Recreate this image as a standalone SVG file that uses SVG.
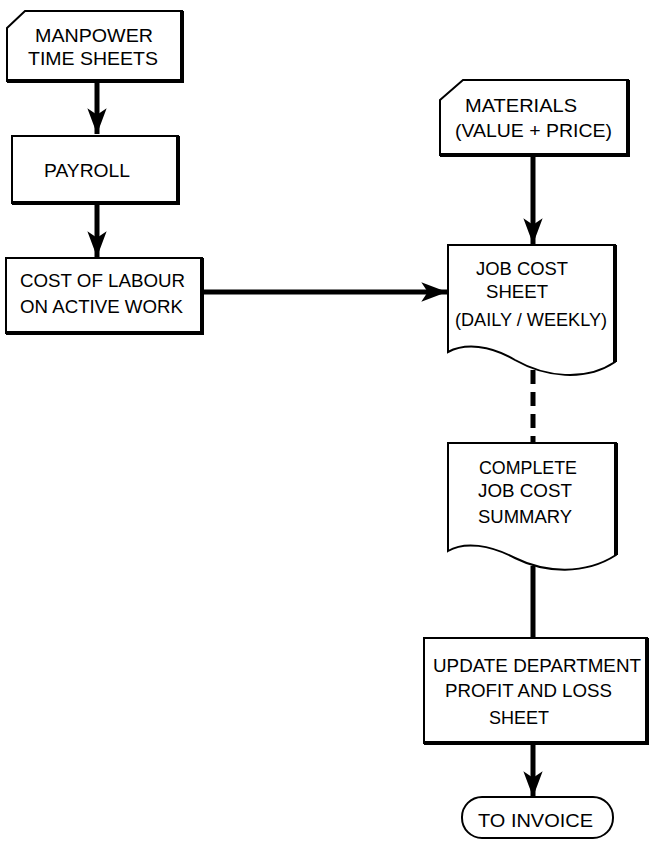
<svg xmlns="http://www.w3.org/2000/svg" width="649" height="841" viewBox="0 0 649 841">
<style>
.box{fill:#fff;stroke:#000;stroke-width:2;stroke-linejoin:miter}
.shadow{fill:none;stroke:#000;stroke-width:4}
.t{font-family:"Liberation Sans",Arial,sans-serif;font-size:19px;fill:#000}
.c{fill:none;stroke:#000;stroke-width:5}
</style>
<defs>
<marker id="ah" markerUnits="userSpaceOnUse" markerWidth="30" markerHeight="30" viewBox="-26 -12 28 24" refX="0" refY="0" orient="auto">
<path d="M0,0 L-24,-9 L-18,0 L-24,9 Z" fill="#000"/>
</marker>
</defs>
<rect width="649" height="841" fill="#fff"/>
<g id="connectors">
<line class="c" x1="97" y1="82" x2="97" y2="134" marker-end="url(#ah)"/>
<line class="c" x1="97" y1="204" x2="97" y2="257" marker-end="url(#ah)"/>
<line class="c" x1="203" y1="292" x2="447" y2="292" marker-end="url(#ah)"/>
<line class="c" x1="533" y1="156" x2="533" y2="244" marker-end="url(#ah)"/>
<line class="c" x1="533" y1="370" x2="533" y2="443" stroke-dasharray="14 8"/>
<line class="c" x1="533" y1="566" x2="533" y2="638"/>
<line class="c" x1="533" y1="744" x2="533" y2="797" marker-end="url(#ah)"/>
</g>
<g id="manpower">
<path class="box" d="M7,28 L25,11 L182,11 L182,81 L7,81 Z"/>
<polyline class="shadow" points="182,11 182,81 7,81"/>
<text class="t" x="35" y="42" textLength="118" lengthAdjust="spacingAndGlyphs">MANPOWER</text>
<text class="t" x="28" y="65" textLength="130" lengthAdjust="spacingAndGlyphs">TIME SHEETS</text>
</g>
<g id="payroll">
<rect class="box" x="12" y="136" width="166" height="67"/>
<polyline class="shadow" points="178,136 178,203 12,203"/>
<text class="t" x="44" y="177" textLength="86" lengthAdjust="spacingAndGlyphs">PAYROLL</text>
</g>
<g id="labour">
<rect class="box" x="6" y="258" width="196" height="75"/>
<polyline class="shadow" points="202,258 202,333 6,333"/>
<text class="t" x="20" y="287" textLength="165" lengthAdjust="spacingAndGlyphs">COST OF LABOUR</text>
<text class="t" x="20" y="313" textLength="163" lengthAdjust="spacingAndGlyphs">ON ACTIVE WORK</text>
</g>
<g id="materials">
<path class="box" d="M440,100 L463,80 L628,80 L628,155 L440,155 Z"/>
<polyline class="shadow" points="628,80 628,155 440,155"/>
<text class="t" x="465" y="112" textLength="112" lengthAdjust="spacingAndGlyphs">MATERIALS</text>
<text class="t" x="455" y="137" textLength="157" lengthAdjust="spacingAndGlyphs">(VALUE + PRICE)</text>
</g>
<g id="jobcost">
<path class="box" d="M448,245 L615,245 L615,362 C585,382 545,377 515,360 C490,345 465,343 448,352 Z"/>
<polyline class="shadow" points="615,245 615,362"/>
<text class="t" x="476" y="275" textLength="92" lengthAdjust="spacingAndGlyphs">JOB COST</text>
<text class="t" x="486" y="298" textLength="62" lengthAdjust="spacingAndGlyphs">SHEET</text>
<text class="t" x="455" y="326" textLength="152" lengthAdjust="spacingAndGlyphs">(DAILY / WEEKLY)</text>
</g>
<g id="summary">
<path class="box" d="M448,443 L616,443 L616,555 C585,575 545,573 515,558 C490,545 465,541 448,551 Z"/>
<polyline class="shadow" points="616,443 616,555"/>
<text class="t" x="479" y="474" textLength="98" lengthAdjust="spacingAndGlyphs">COMPLETE</text>
<text class="t" x="478" y="497" textLength="94" lengthAdjust="spacingAndGlyphs">JOB COST</text>
<text class="t" x="478" y="523" textLength="94" lengthAdjust="spacingAndGlyphs">SUMMARY</text>
</g>
<g id="update">
<rect class="box" x="424" y="638" width="223" height="105"/>
<polyline class="shadow" points="647,638 647,743 424,743"/>
<text class="t" x="433" y="672" textLength="208" lengthAdjust="spacingAndGlyphs">UPDATE DEPARTMENT</text>
<text class="t" x="445" y="697" textLength="167" lengthAdjust="spacingAndGlyphs">PROFIT AND LOSS</text>
<text class="t" x="489" y="724" textLength="60" lengthAdjust="spacingAndGlyphs">SHEET</text>
</g>
<g id="invoice">
<rect class="box" x="462" y="797" width="151" height="41" rx="20" ry="20"/>
<text class="t" x="478" y="827" textLength="115" lengthAdjust="spacingAndGlyphs">TO INVOICE</text>
</g>
</svg>
